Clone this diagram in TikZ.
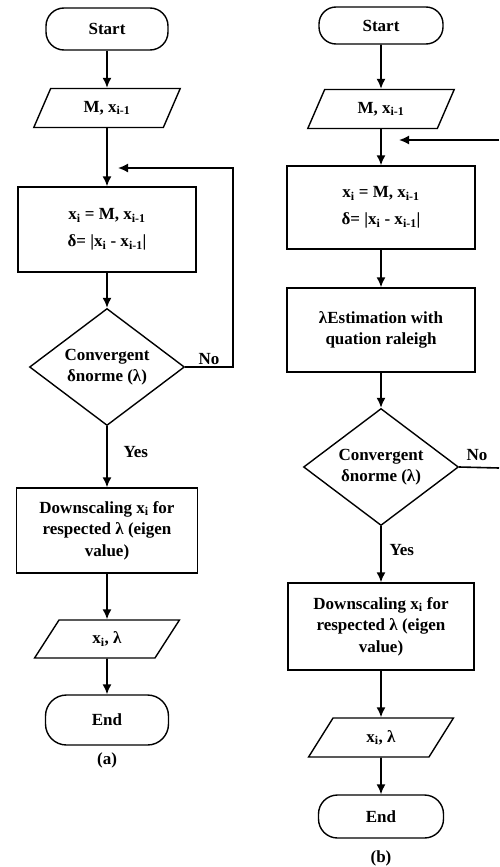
\documentclass[tikz,border=0pt]{standalone}
\usepackage{fontspec}
\setmainfont{Liberation Serif}
\usepackage{tikz}
\usetikzlibrary{shapes,arrows.meta,positioning}

\tikzset{
  term/.style={draw, line width=1.4pt, rectangle, rounded corners=18pt, minimum width=122pt, minimum height=42pt, inner sep=0pt},
  io/.style={draw, line width=1.4pt, trapezium, trapezium left angle=63, trapezium right angle=117, trapezium stretches=true, minimum width=147pt, minimum height=39pt, inner sep=0pt},
  proc/.style={draw, line width=1.4pt, rectangle, minimum width=181pt, minimum height=85pt, align=center, inner sep=0pt},
  decide/.style={draw, line width=1.4pt, diamond, aspect=1.32, minimum width=155pt, minimum height=117pt, align=center, inner sep=0pt},
  flow/.style={line width=1.6pt, ->},
}

\begin{document}
\begin{tikzpicture}[x=1pt, y=-1pt, >={Latex[length=10pt,width=9pt]},
    font=\fontsize{17}{21.5}\selectfont\bfseries]
    \useasboundingbox (0,0) rectangle (499,867);

    % Flowchart (a)
    \node[term] (startA) at (107,29) {Start};
    \node[io] (inA) at (107,108) {M, x\textsubscript{i-1}};
    \node[proc, minimum width=178pt] (calcA) at (107,229.5) {x\textsubscript{i} = M, x\textsubscript{i-1}\\[5.5pt] δ= |x\textsubscript{i} - x\textsubscript{i-1}|};
    \node[decide] (convA) at (107,367) {Convergent\\ δnorme (λ)};
    \node[proc] (downA) at (107,530.5) {Downscaling x\textsubscript{i} for\\ respected λ (eigen\\ value)};
    \node[io, minimum width=145pt, minimum height=38pt] (outA) at (107,639) {x\textsubscript{i}, λ};
    \node[term, minimum width=123pt, minimum height=50pt, rounded corners=21pt] (endA) at (107,720) {End};
    \node (capA) at (107,760) {(a)};
    \node[anchor=west] (yesA) at (120,452) {Yes};
    \node (noA) at (209,359) {No};
    \coordinate (loopA) at (233,168);
    \coordinate (tipA) at (118,168);

    \draw[flow] (startA) -- (inA);
    \draw[flow] (inA) -- (calcA);
    \draw[flow] (calcA) -- (convA);
    \draw[flow] (convA) -- (downA);
    \draw[flow] (downA) -- (outA);
    \draw[flow] (outA) -- (endA);
    \draw[flow] (convA.east) -| (loopA) -- (tipA);

    % Flowchart (b)
    \node[term, minimum width=124pt, minimum height=37pt, rounded corners=17pt] (startB) at (381,25.5) {Start};
    \node[io] (inB) at (381,109) {M, x\textsubscript{i-1}};
    \node[proc, minimum width=188pt, minimum height=83pt] (calcB) at (381,207.5) {x\textsubscript{i} = M, x\textsubscript{i-1}\\[5.5pt] δ= |x\textsubscript{i} - x\textsubscript{i-1}|};
    \node[proc, minimum width=188pt, minimum height=84pt] (estB) at (381,330) {λEstimation with\\ quation raleigh};
    \node[decide] (convB) at (381,467) {Convergent\\ δnorme (λ)};
    \node[proc, minimum width=186pt, minimum height=87pt] (downB) at (381,626.5) {Downscaling x\textsubscript{i} for\\ respected λ (eigen\\ value)};
    \node[io, minimum width=145pt] (outB) at (381,737.5) {x\textsubscript{i}, λ};
    \node[term, minimum width=125pt, minimum height=43pt, rounded corners=19pt] (endB) at (381,816.5) {End};
    \node (capB) at (381,858) {(b)};
    \node[anchor=west] (yesB) at (386,550) {Yes};
    \node (noB) at (477,455) {No};
    \coordinate (exitB) at (499,468);
    \coordinate (backB) at (499,140);
    \coordinate (tipB) at (399,140);

    \draw[flow] (startB) -- (inB);
    \draw[flow] (inB) -- (calcB);
    \draw[flow] (calcB) -- (estB);
    \draw[flow] (estB) -- (convB);
    \draw[flow] (convB) -- (downB);
    \draw[flow] (downB) -- (outB);
    \draw[flow] (outB) -- (endB);
    \draw[line width=1.6pt] (convB.east) -- (exitB);
    \draw[flow] (backB) -- (tipB);
\end{tikzpicture}
\end{document}
